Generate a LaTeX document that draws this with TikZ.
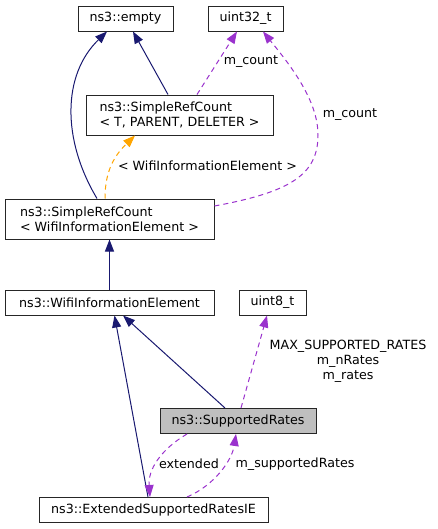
\documentclass[tikz,border=0pt]{standalone}
\usepackage{fontspec}
\setmainfont{DejaVu Sans}
\usetikzlibrary{arrows.meta}
\definecolor{dxnavy}{HTML}{191970}
\definecolor{dxpurple}{HTML}{9A32CD}
\definecolor{dxorange}{HTML}{FFA500}
\definecolor{dxgray}{HTML}{BFBFBF}

\begin{document}
\begin{tikzpicture}[x=0.75pt, y=-0.75pt,
  font=\fontsize{9.5}{11.25}\selectfont,
  cls/.style={draw=black!85, line width=0.75pt, fill=white, inner sep=0pt,
    minimum height=18.75pt, align=left},
  twoline/.style={cls, minimum height=30pt},
  inherit/.style={draw=dxnavy, line width=0.75pt, -{Triangle[length=9pt,width=6.75pt]}},
  usage/.style={draw=dxpurple, line width=0.75pt, dash pattern=on 3.75pt off 3pt,
    -{Triangle[length=9pt,width=6.75pt]}},
  templ/.style={usage, draw=dxorange},
  lbl/.style={inner sep=0pt, align=center}]
  \useasboundingbox (0,0) rectangle (437,529);

  \node[cls, minimum width=71.25pt] (empty) at (125.5,18.5) {ns3::empty};
  \node[cls, minimum width=56.25pt] (uint32) at (245.5,18.5) {uint32\_t};
  \node[twoline, minimum width=140.25pt] (srctpd) at (179.5,115) {ns3::SimpleRefCount\\< T, PARENT, DELETER >};
  \node[twoline, minimum width=156.75pt] (srcwie) at (109.5,219) {ns3::SimpleRefCount\\< WifiInformationElement >};
  \node[cls, minimum width=156.75pt] (wie) at (109.5,302.5) {ns3::WifiInformationElement};
  \node[cls, minimum width=50.25pt] (uint8) at (272.5,302.5) {uint8\_t};
  \node[cls, minimum width=117pt, fill=dxgray] (sr) at (238,421) {ns3::SupportedRates};
  \node[cls, minimum width=171.75pt] (esri) at (153.5,510) {ns3::ExtendedSupportedRatesIE};

  \draw[inherit] ([xshift=-9.375pt]srcwie.north) .. controls (62,140) and (62,75) .. ([xshift=-13.875pt]empty.south);
  \draw[inherit] ([xshift=-8.625pt]srctpd.north) -- ([xshift=5.625pt]empty.south);
  \draw[usage] ([xshift=13.125pt]srctpd.north) -- ([xshift=-6.375pt]uint32.south);
  \draw[usage] ([yshift=9.75pt]srcwie.east) .. controls (290,192) and (318,175) .. (318,135)
    .. controls (318,100) and (290,65) .. ([xshift=13.125pt]uint32.south);
  \draw[templ] ([xshift=-3.375pt]srcwie.north) .. controls (105,170) and (115,155) .. ([xshift=-33.375pt]srctpd.south);
  \draw[inherit] (wie.north) -- (srcwie.south);
  \draw[inherit] ([xshift=-9.75pt]sr.north) -- ([xshift=10.125pt]wie.south);
  \draw[inherit] ([xshift=-4.125pt]esri.north) -- ([xshift=3.75pt]wie.south);
  \draw[usage] ([xshift=2.25pt]sr.north) -- ([xshift=-4.125pt]uint8.south);
  \draw[usage] ([xshift=-38.25pt]sr.south) .. controls (160,450) and (148,470) .. ([xshift=-2.625pt]esri.north);
  \draw[usage] ([xshift=25.125pt]esri.north) .. controls (215,485) and (232,460) .. ([xshift=-1.5pt]sr.south);

  \node[lbl] (lcount) at (251,62) {m\_count};
  \node[lbl] (lcountb) at (350,115) {m\_count};
  \node[lbl] (ltempl) at (207.5,166) {< WifiInformationElement >};
  \node[lbl] (lrates) at (348,361) {MAX\_SUPPORTED\_RATES\\m\_nRates\\m\_rates};
  \node[lbl] (lext) at (189,464) {extended};
  \node[lbl] (lsr) at (295,464) {m\_supportedRates};
\end{tikzpicture}
\end{document}
